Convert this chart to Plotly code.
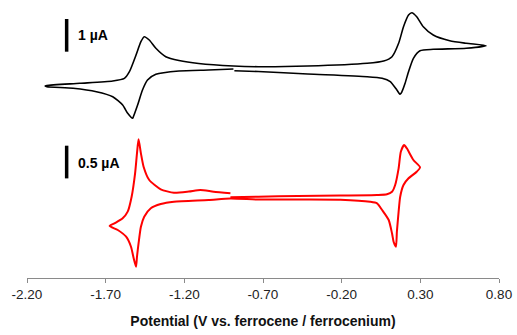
import plotly.graph_objects as go

# Black CV (potential in V vs Fc/Fc+, current in µA)
black_v = [-0.888, -1.046, -1.234, -1.381, -1.434, -1.466, -1.497, -1.524, -1.529, -1.560,
           -1.592, -1.655, -1.759, -1.907, -2.074, -2.085, -2.074, -1.864, -1.655, -1.581,
           -1.549, -1.507, -1.476, -1.455, -1.423, -1.381, -1.318, -1.234, -1.109, -0.888,
           -0.731, -0.416, -0.038, 0.067, 0.120, 0.162, 0.193, 0.225, 0.246, 0.277,
           0.319, 0.382, 0.487, 0.592, 0.718, 0.592, 0.382, 0.298, 0.256, 0.225,
           0.203, 0.183, 0.172, 0.151, 0.109, 0.057, -0.038, -0.416, -0.731, -0.882]
black_i = [0.031, 0.000, -0.031, -0.131, -0.306, -0.612, -1.070, -1.428, -1.477, -1.324,
           -1.070, -0.817, -0.664, -0.560, -0.511, -0.489, -0.474, -0.407, -0.336, -0.254,
           -0.052, 0.459, 0.865, 1.018, 0.917, 0.664, 0.407, 0.291, 0.199, 0.122,
           0.101, 0.122, 0.205, 0.275, 0.407, 0.817, 1.324, 1.682, 1.752, 1.630,
           1.324, 1.070, 0.896, 0.817, 0.743, 0.664, 0.633, 0.590, 0.358, -0.052,
           -0.407, -0.664, -0.743, -0.612, -0.358, -0.254, -0.205, -0.122, -0.046, -0.021]

# Red CV
red_v = [-0.907, -0.731, -0.479, -0.208, 0.025, 0.088, 0.120, 0.140, 0.162, 0.176,
         0.197, 0.214, 0.256, 0.298, 0.277, 0.225, 0.193, 0.172, 0.162, 0.151,
         0.145, 0.130, 0.120, 0.099, 0.057, 0.025, -0.019, -0.208, -0.479, -0.731,
         -0.907, -1.046, -1.266, -1.350, -1.413, -1.455, -1.476, -1.491, -1.501, -1.507,
         -1.522, -1.539, -1.570, -1.623, -1.675, -1.644, -1.592, -1.560, -1.535, -1.513,
         -1.501, -1.491, -1.476, -1.459, -1.423, -1.350, -1.266, -1.171, -1.098, -1.014,
         -0.907]
red_i = [0.011, 0.020, 0.031, 0.038, 0.046, 0.057, 0.096, 0.199, 0.454, 0.708,
         0.810, 0.760, 0.581, 0.469, 0.402, 0.301, 0.199, 0.020, -0.209, -0.515,
         -0.745, -0.668, -0.540, -0.336, -0.183, -0.081, -0.057, -0.026, -0.023, -0.023,
         -0.008, -0.031, -0.057, -0.092, -0.157, -0.286, -0.439, -0.693, -0.898, -1.050,
         -0.922, -0.745, -0.592, -0.489, -0.428, -0.387, -0.310, -0.209, 0.020, 0.378,
         0.683, 0.898, 0.683, 0.479, 0.275, 0.133, 0.081, 0.099, 0.122, 0.096,
         0.072]

tick_vals = [-2.2, -1.7, -1.2, -0.7, -0.2, 0.3, 0.8]
tick_labels = ["-2.20", "-1.70", "-1.20", "-0.70", "-0.20", "0.30", "0.80"]

FONT = "Arial, Liberation Sans, sans-serif"

fig = go.Figure()
fig.add_trace(go.Scatter(x=black_v, y=black_i, mode="lines", yaxis="y",
                         line=dict(color="#000000", width=1.6, shape="spline", smoothing=0.6),
                         showlegend=False, hoverinfo="skip"))
fig.add_trace(go.Scatter(x=red_v, y=red_i, mode="lines", yaxis="y2",
                         line=dict(color="#ff0000", width=2, shape="spline", smoothing=0.6),
                         showlegend=False, hoverinfo="skip"))

# scale bars
fig.add_shape(type="line", xref="x", yref="y", x0=-1.948, x1=-1.948, y0=0.56, y1=1.56,
              line=dict(color="black", width=3.5))
fig.add_shape(type="line", xref="x", yref="y2", x0=-1.948, x1=-1.948, y0=0.30, y1=0.80,
              line=dict(color="black", width=3.5))
fig.add_annotation(x=-1.89, y=1.06, xref="x", yref="y", text="<b>1 µA</b>", showarrow=False,
                   xanchor="left", yanchor="middle", font=dict(family=FONT, size=14, color="black"))
fig.add_annotation(x=-1.89, y=0.53, xref="x", yref="y2", text="<b>0.5 µA</b>", showarrow=False,
                   xanchor="left", yanchor="middle", font=dict(family=FONT, size=14, color="black"))

fig.update_layout(
    width=517, height=335,
    margin=dict(l=27, r=14, t=5, b=57),
    paper_bgcolor="white", plot_bgcolor="white",
    font=dict(family=FONT, color="#222222"),
    hovermode=False, dragmode=False,
    xaxis=dict(range=[-2.2, 0.8], tickvals=tick_vals, ticktext=tick_labels, fixedrange=True,
               showgrid=False, zeroline=False, showline=True, linecolor="#8a8a8a", linewidth=1.2,
               ticks="outside", ticklen=4, tickcolor="#8a8a8a", tickwidth=1,
               tickfont=dict(family=FONT, size=13.5, color="#222222"),
               title=dict(text="<b>Potential (V vs. ferrocene / ferrocenium)</b>",
                          font=dict(family=FONT, size=14, color="#111111"), standoff=14)),
    yaxis=dict(range=[-6.361, 1.988], visible=False, fixedrange=True),
    yaxis2=dict(range=[-1.223, 2.951], visible=False, overlaying="y", fixedrange=True),
)

fig.write_html("out.html", config={"displayModeBar": False, "staticPlot": True},
               post_script="document.body.style.margin='0';document.body.style.overflow='hidden';")
